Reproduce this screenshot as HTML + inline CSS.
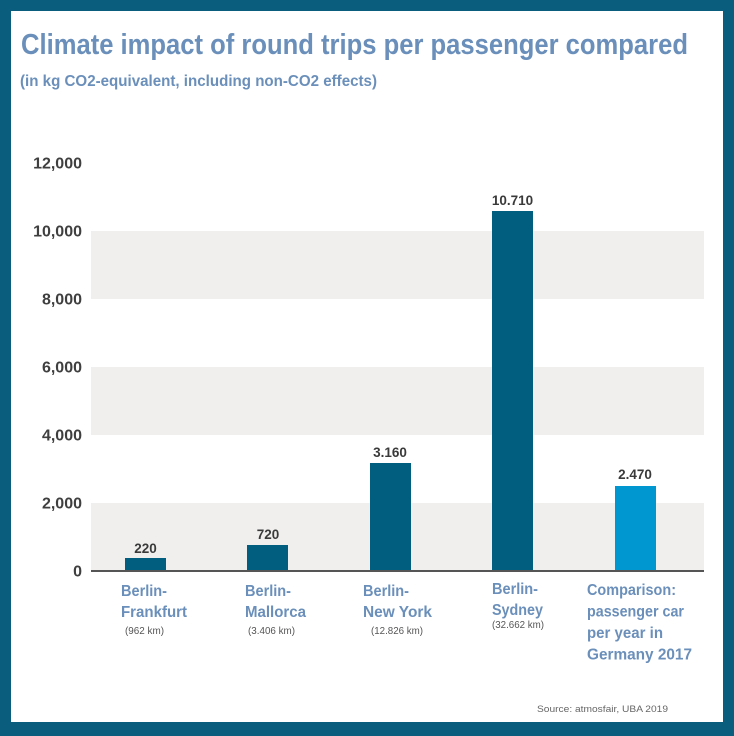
<!DOCTYPE html>
<html>
<head>
<meta charset="utf-8">
<style>
  html,body{margin:0;padding:0;background:#fff;}
  svg{display:block;}
  text{font-family:"Liberation Sans", Arial, sans-serif;}
</style>
</head>
<body>
<svg width="734" height="736" viewBox="0 0 734 736" xmlns="http://www.w3.org/2000/svg">
  <!-- frame -->
  <rect x="0" y="0" width="734" height="736" fill="#0a5d7c"/>
  <rect x="11" y="11" width="712" height="711" fill="#ffffff"/>

  <!-- title -->
  <text x="21" y="54" font-size="29" font-weight="bold" fill="#6a8fba" textLength="667" lengthAdjust="spacingAndGlyphs">Climate impact of round trips per passenger compared</text>
  <text x="20" y="86" font-size="16" font-weight="bold" fill="#6a8fba" textLength="357" lengthAdjust="spacingAndGlyphs">(in kg CO2-equivalent, including non-CO2 effects)</text>

  <!-- bands -->
  <rect x="91" y="231" width="613" height="68" fill="#f0efee"/>
  <rect x="91" y="367" width="613" height="68" fill="#f0efee"/>
  <rect x="91" y="503" width="613" height="68" fill="#f0efee"/>

  <!-- y tick labels -->
  <g font-size="16" font-weight="bold" fill="#3f3f3f" text-anchor="end">
    <text x="82" y="168.5">12,000</text>
    <text x="82" y="236.5">10,000</text>
    <text x="82" y="304.5">8,000</text>
    <text x="82" y="372.5">6,000</text>
    <text x="82" y="440.5">4,000</text>
    <text x="82" y="508.5">2,000</text>
    <text x="82" y="576.5">0</text>
  </g>

  <!-- bars -->
  <rect x="125" y="558" width="41" height="13" fill="#015e7e"/>
  <rect x="247" y="545" width="41" height="26" fill="#015e7e"/>
  <rect x="370" y="463" width="41" height="108" fill="#015e7e"/>
  <rect x="492" y="211" width="41" height="360" fill="#015e7e"/>
  <rect x="615" y="486" width="41" height="85" fill="#0097d0"/>

  <!-- axis -->
  <rect x="91" y="570" width="613" height="2" fill="#555555"/>

  <!-- value labels -->
  <g font-size="13.5" font-weight="bold" fill="#3a3a3a" text-anchor="middle">
    <text x="145.5" y="553">220</text>
    <text x="268" y="539">720</text>
    <text x="390" y="457">3.160</text>
    <text x="512.5" y="205">10.710</text>
    <text x="635" y="479">2.470</text>
  </g>

  <!-- category labels -->
  <g font-size="15.5" font-weight="bold" fill="#6a8fba">
    <text x="121" y="596" textLength="46" lengthAdjust="spacingAndGlyphs">Berlin-</text>
    <text x="121" y="617" textLength="66" lengthAdjust="spacingAndGlyphs">Frankfurt</text>

    <text x="245" y="596" textLength="46" lengthAdjust="spacingAndGlyphs">Berlin-</text>
    <text x="245" y="617" textLength="61" lengthAdjust="spacingAndGlyphs">Mallorca</text>

    <text x="363" y="596" textLength="46" lengthAdjust="spacingAndGlyphs">Berlin-</text>
    <text x="363" y="617" textLength="69" lengthAdjust="spacingAndGlyphs">New York</text>

    <text x="492" y="594" textLength="46" lengthAdjust="spacingAndGlyphs">Berlin-</text>
    <text x="492" y="615" textLength="51" lengthAdjust="spacingAndGlyphs">Sydney</text>

    <text x="587" y="595" textLength="89" lengthAdjust="spacingAndGlyphs">Comparison:</text>
    <text x="587" y="616.5" textLength="97" lengthAdjust="spacingAndGlyphs">passenger car</text>
    <text x="587" y="638" textLength="76" lengthAdjust="spacingAndGlyphs">per year in</text>
    <text x="587" y="659.5" textLength="105" lengthAdjust="spacingAndGlyphs">Germany 2017</text>
  </g>

  <g font-size="10.5" fill="#555555">
    <text x="125" y="634" textLength="39" lengthAdjust="spacingAndGlyphs">(962 km)</text>
    <text x="248" y="634" textLength="47" lengthAdjust="spacingAndGlyphs">(3.406 km)</text>
    <text x="371" y="634" textLength="52" lengthAdjust="spacingAndGlyphs">(12.826 km)</text>
    <text x="492" y="628" textLength="52" lengthAdjust="spacingAndGlyphs">(32.662 km)</text>
  </g>

  <!-- source -->
  <text x="537" y="712" font-size="9.5" fill="#666666" textLength="131" lengthAdjust="spacingAndGlyphs">Source: atmosfair, UBA 2019</text>
</svg>
</body>
</html>
